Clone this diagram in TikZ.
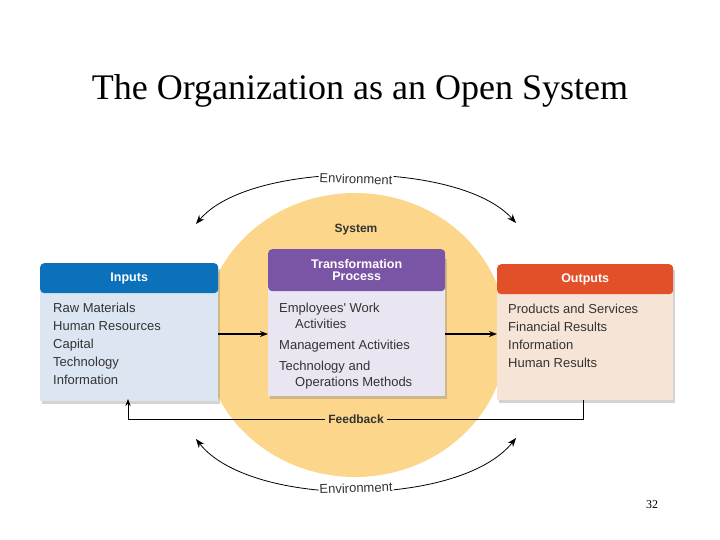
\documentclass[tikz,border=0pt]{standalone}
\usepackage{fontspec}
\setmainfont{Liberation Serif}
\newfontfamily\lsans{Liberation Sans}
\usetikzlibrary{arrows.meta,shadows}
\definecolor{inhead}{HTML}{0B71BA}\definecolor{inbody}{HTML}{DCE6F2}
\definecolor{trhead}{HTML}{7A55A5}\definecolor{trbody}{HTML}{E9E6F2}
\definecolor{outhead}{HTML}{E2502A}\definecolor{outbody}{HTML}{F6E4D6}
\definecolor{sysfill}{HTML}{FCD68A}
\begin{document}
\begin{tikzpicture}[x=1pt,y=-1pt,
 body/.style={anchor=north west,inner sep=0pt,drop shadow={opacity=0.35,shadow xshift=2pt,shadow yshift=-3pt}},
 head/.style={rounded corners=4pt,anchor=north west,inner sep=0pt,text=white,font=\lsans\bfseries\fontsize{12.5}{13.5}\selectfont,align=center},
 list/.style={anchor=north west,align=left,font=\lsans\fontsize{13}{18}\selectfont,text=black!80,inner sep=0pt},
 conn/.style={line width=1.5pt,-{Stealth[length=8pt]}},
 env/.style={line width=0.8pt,{Stealth[length=9pt]}-{Stealth[length=9pt]}},
 lab/.style={font=\lsans\fontsize{13}{15}\selectfont,text=black!80}]
\useasboundingbox (0,0) rectangle (720,540);
\node (title) at (360,91) {\fontsize{36}{40}\selectfont The Organization as an Open System};
\fill[sysfill] (355,335) ellipse (152 and 142);
\node[lab,font=\lsans\bfseries\fontsize{12}{14}\selectfont] (sys) at (356,230) {System};
\coordinate (e1) at (196,224); \coordinate (e2) at (516,223);
\draw[env] (e1) .. controls (250,160) and (460,160) .. (e2);
\node[lab,fill=white,inner sep=1pt,rotate=-2] (envt) at (356,179) {Environment};
\coordinate (e3) at (196,439); \coordinate (e4) at (516,438);
\draw[env] (e3) .. controls (250,508) and (460,508) .. (e4);
\node[lab,fill=white,inner sep=1pt,rotate=2] (envb) at (356,488) {Environment};
\node[body,fill=inbody,minimum width=178pt,minimum height=135pt] (inb) at (40,266) {};
\node[head,fill=inhead,minimum width=178pt,minimum height=30pt] (inh) at (40,263) {Inputs};
\node[body,fill=trbody,minimum width=177pt,minimum height=140pt] (trb) at (268,256) {};
\node[head,fill=trhead,minimum width=177pt,minimum height=42pt] (trh) at (268,249) {Transformation\\[-1pt]Process};
\node[body,fill=outbody,minimum width=176pt,minimum height=133pt] (outb) at (497,267) {};
\node[head,fill=outhead,minimum width=176pt,minimum height=30pt] (outh) at (497,264) {Outputs};
\node[list] (inl) at (53,303) {Raw Materials\\Human Resources\\Capital\\Technology\\Information};
\node[list,font=\lsans\fontsize{13}{16}\selectfont] (trl) at (279,303) {Employees' Work\\\hspace{16pt}Activities\\[5pt]Management Activities\\[5pt]Technology and\\\hspace{16pt}Operations Methods};
\node[list] (outl) at (508,304) {Products and Services\\Financial Results\\Information\\Human Results};
\coordinate (a1) at (218,334); \coordinate (a2) at (268,334);
\draw[conn] (a1) -- (a2);
\coordinate (b1) at (445,334); \coordinate (b2) at (497,334);
\draw[conn] (b1) -- (b2);
\coordinate (f1) at (583,400); \coordinate (f2) at (583,419); \coordinate (f3) at (128,419); \coordinate (f4) at (128,399);
\draw[line width=1pt,-{Stealth[length=7pt]}] (f1) -- (f2) -- (f3) -- (f4);
\node[lab,font=\lsans\bfseries\fontsize{12}{14}\selectfont,fill=sysfill,inner sep=3pt] (fb) at (356,419) {Feedback};
\node[font=\fontsize{12}{14}\selectfont] (pg) at (652,505) {32};
\end{tikzpicture}
\end{document}
